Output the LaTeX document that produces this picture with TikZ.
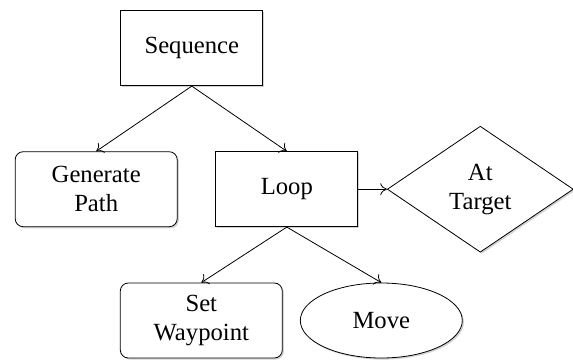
\documentclass[tikz,border=0pt]{standalone}
\usepackage{fontspec}
\setmainfont{Liberation Serif}
\usetikzlibrary{shapes.geometric,shadows,arrows.meta}

\tikzset{
  shade box/.style={drop shadow={shadow xshift=1.2pt,shadow yshift=-1.2pt,opacity=0.35,fill=gray}},
  plain box/.style={draw,fill=white,line width=0.6pt,minimum width=106.5pt,minimum height=56.25pt,align=center,shade box},
  round box/.style={plain box,rounded corners=6pt,minimum width=121.5pt},
  oval box/.style={draw,fill=white,line width=0.6pt,ellipse,minimum width=121.5pt,minimum height=56.25pt,align=center,shade box},
  test box/.style={draw,fill=white,line width=0.6pt,diamond,inner sep=0pt,minimum width=139.5pt,minimum height=94.5pt,align=center,shade box},
  link/.style={-{To[length=5pt,width=9pt]},line width=0.6pt}
}

\begin{document}
\begin{tikzpicture}[x=0.75pt,y=0.75pt,yscale=-1,xscale=1,font=\fontsize{18.5}{21.5}\selectfont]
\useasboundingbox (0,0) rectangle (573,360);

%Shape: Rectangle
\node[plain box] (seq) at (191.8,48.2) {Sequence};
%Shape: Rounded Rectangle
\node[round box] (gen) at (96.2,189.2) {Generate\\Path};
%Shape: Rectangle
\node[plain box] (loop) at (286.8,189.2) {Loop};
%Shape: Diamond
\node[test box] (target) at (480.3,189.2) {At\\Target};
%Shape: Rounded Rectangle
\node[round box] (wp) at (201.3,320.5) {Set\\Waypoint};
%Shape: Ellipse
\node[oval box] (move) at (381.3,320.5) {Move};

%Straight Lines
\draw[link] (seq.south) -- (gen.north);
\draw[link] (seq.south) -- (loop.north);
\draw[link] (loop.east) -- (target.west);
\draw[link] (loop.south) -- (wp.north);
\draw[link] (loop.south) -- (move.north);
\end{tikzpicture}
\end{document}
